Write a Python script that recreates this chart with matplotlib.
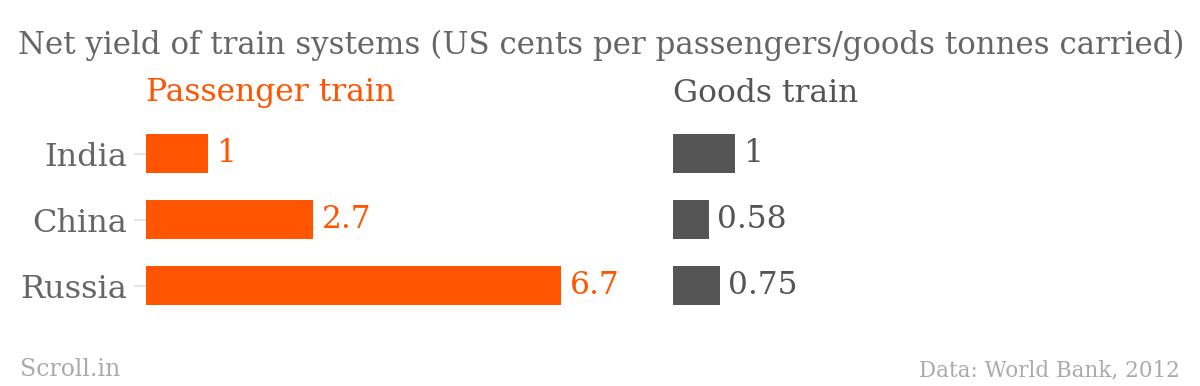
import numpy as np
import matplotlib.pyplot as plt

countries = ["India", "China", "Russia"]
passenger = [1, 2.7, 6.7]
goods = [1, 0.58, 0.75]
passenger_labels = ["1", "2.7", "6.7"]
goods_labels = ["1", "0.58", "0.75"]

ORANGE = "#ff5400"
DARK = "#555555"
TEXT = "#666666"
LIGHT = "#aaaaaa"
FONT = "DejaVu Serif"

W, H = 1200, 386
fig = plt.figure(figsize=(W / 100, H / 100), dpi=100)


def px_axes(left, top, width, height):
    return fig.add_axes([left / W, 1 - (top + height) / H, width / W, height / H])


scale = 62.0  # pixels per unit
ax_w = 500
xmax = ax_w / scale
ylim = (2 + (320 - 285.5) / 66, -(153.5 - 120) / 66)

y = np.arange(len(countries))
ax1 = px_axes(146, 120, ax_w, 200)
ax2 = px_axes(673, 120, ax_w, 200)

for ax, vals, labs, col in [(ax1, passenger, passenger_labels, ORANGE),
                            (ax2, goods, goods_labels, DARK)]:
    ax.barh(y, vals, height=0.6, color=col)
    ax.set_xlim(0, xmax)
    ax.set_ylim(*ylim)
    for s in ax.spines.values():
        s.set_visible(False)
    ax.set_xticks([])
    for yi, v, lab in zip(y, vals, labs):
        ax.text(v + 8 / scale, yi, lab, va="center", ha="left",
                fontsize=22.5, color=col, family=FONT)

ax1.set_yticks(y)
ax1.set_yticklabels(countries, fontsize=23, color=TEXT, family=FONT)
ax1.tick_params(axis="y", length=9, width=1.5, color="#e5e5e5", pad=4.5)
ax2.set_yticks([])

fig.text(18 / W, 1 - 45 / H, "Net yield of train systems (US cents per passengers/goods tonnes carried)",
         fontsize=22.2, color=TEXT, family=FONT, va="center", ha="left")
fig.text(146 / W, 1 - 93 / H, "Passenger train", fontsize=22.6, color=ORANGE,
         family=FONT, va="center", ha="left")
fig.text(673 / W, 1 - 93 / H, "Goods train", fontsize=22.6, color=DARK,
         family=FONT, va="center", ha="left")
fig.text(20 / W, 1 - 370 / H, "Scroll.in", fontsize=17, color=LIGHT,
         family=FONT, va="center", ha="left")
fig.text(1180 / W, 1 - 370 / H, "Data: World Bank, 2012", fontsize=15.5, color=LIGHT,
         family=FONT, va="center", ha="right")

fig.savefig("out.png", dpi=100)
